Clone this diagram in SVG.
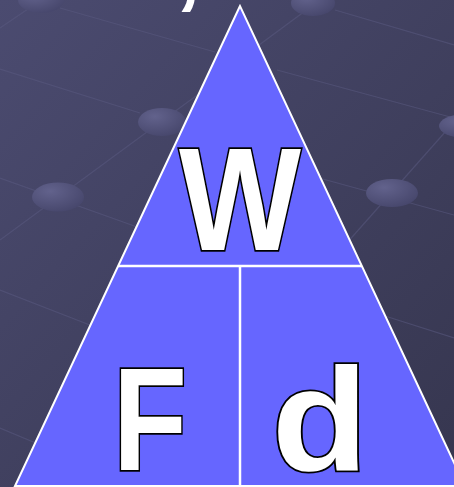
<svg xmlns="http://www.w3.org/2000/svg" width="454" height="487" viewBox="0 0 454 487">
  <defs>
    <linearGradient id="bg" x1="0" y1="0" x2="1" y2="1">
      <stop offset="0" stop-color="#4b4b70"/>
      <stop offset="1" stop-color="#36364f"/>
    </linearGradient>
    <radialGradient id="dot" cx="0.35" cy="0.3" r="0.8">
      <stop offset="0" stop-color="#62628c"/>
      <stop offset="1" stop-color="#45456a"/>
    </radialGradient>
    <style>
      .grid { stroke: #5a5a80; stroke-width: 1.2; fill: none; opacity: 0.55; }
      .dot { fill: url(#dot); }
      .tri { fill: #6666ff; stroke: #ffffff; stroke-width: 2; }
      .div { stroke: #ffffff; stroke-width: 2.5; fill: none; }
      .big { font-family: "Liberation Sans", Arial, sans-serif; font-weight: bold; font-size: 146px; fill: #ffffff; stroke: #000000; stroke-width: 3.5; paint-order: stroke; stroke-linejoin: miter; text-anchor: middle; }
      .frag { font-family: "Liberation Sans", Arial, sans-serif; font-size: 140px; fill: #ffffff; }
    </style>
  </defs>

  <rect id="background" x="0" y="0" width="454" height="487" fill="url(#bg)"/>

  <g id="grid">
    <line class="grid" x1="0" y1="28" x2="50" y2="-6"/>
    <line class="grid" x1="0" y1="240" x2="200" y2="93"/>
    <line class="grid" x1="255" y1="48" x2="320" y2="0"/>
    <line class="grid" x1="330" y1="262" x2="454" y2="122"/>
    <line class="grid" x1="60" y1="8" x2="215" y2="52"/>
    <line class="grid" x1="335" y1="10" x2="454" y2="45"/>
    <line class="grid" x1="0" y1="69" x2="140" y2="113"/>
    <line class="grid" x1="277" y1="70" x2="454" y2="118"/>
    <line class="grid" x1="0" y1="178" x2="140" y2="228"/>
    <line class="grid" x1="290" y1="170" x2="454" y2="215"/>
    <line class="grid" x1="0" y1="290" x2="95" y2="327"/>
    <line class="grid" x1="385" y1="316" x2="454" y2="338"/>
    <line class="grid" x1="0" y1="428" x2="38" y2="444"/>
  </g>

  <g id="dots">
    <ellipse class="dot" cx="41" cy="0" rx="23" ry="13"/>
    <ellipse class="dot" cx="313" cy="3" rx="22" ry="13"/>
    <ellipse class="dot" cx="162" cy="122" rx="24" ry="14"/>
    <ellipse class="dot" cx="465" cy="126" rx="26" ry="12"/>
    <ellipse class="dot" cx="58" cy="197" rx="26" ry="14.5"/>
    <ellipse class="dot" cx="392" cy="193" rx="26" ry="14"/>
  </g>

  <text id="title-fragment" class="frag" x="169" y="-6">,</text>

  <g id="triangle">
    <polygon class="tri" points="240,6 15,486 465,486"/>
  </g>

  <g id="connectors">
    <line class="div" x1="118" y1="266" x2="362" y2="266"/>
    <line class="div" x1="240" y1="266" x2="240" y2="487"/>
  </g>

  <g id="node-W">
    <text class="big" transform="translate(240,250) scale(0.885,1)" x="0" y="0">W</text>
  </g>
  <g id="node-F">
    <text class="big" transform="translate(150,470) scale(0.83,1)" x="0" y="0">F</text>
  </g>
  <g id="node-d">
    <text class="big" transform="translate(320,470) scale(1.08,1)" x="0" y="0">d</text>
  </g>
</svg>
